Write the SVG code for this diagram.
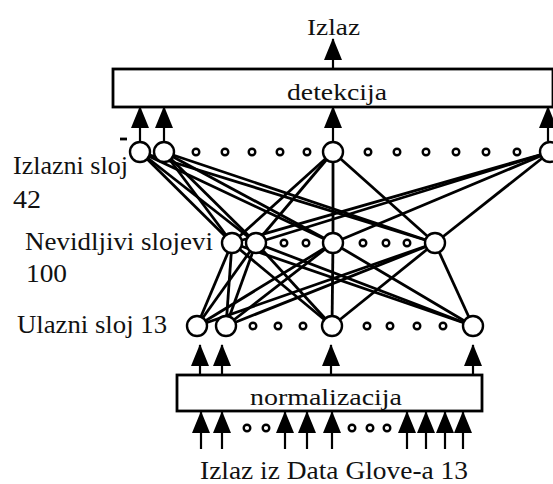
<svg xmlns="http://www.w3.org/2000/svg" width="553" height="484" viewBox="0 0 553 484">
<style>
.t{font-family:"Liberation Serif","Times New Roman",serif;fill:#111;}
.box{fill:#fff;stroke:#000;stroke-width:2.8;}
.n{fill:#fff;stroke:#000;stroke-width:2.4;}
.d{fill:#fff;stroke:#000;stroke-width:2.4;}
.c line{stroke:#000;stroke-width:2.8;}
.a line{stroke:#000;stroke-width:2.2;marker-end:url(#ah);}
</style>
<defs>
<marker id="ah" viewBox="0 0 22 18" refX="21" refY="9" markerWidth="22" markerHeight="18" markerUnits="userSpaceOnUse" orient="auto">
<path d="M0,0 L22,9 L0,18 Z" fill="#000"/>
</marker>
</defs>
<rect width="553" height="484" fill="#fff"/>

<g id="connectors" class="c">
<line x1="140" y1="152" x2="232" y2="243"/>
<line x1="140" y1="152" x2="256" y2="243"/>
<line x1="140" y1="152" x2="333" y2="243"/>
<line x1="140" y1="152" x2="435" y2="243"/>
<line x1="164" y1="152" x2="232" y2="243"/>
<line x1="164" y1="152" x2="256" y2="243"/>
<line x1="164" y1="152" x2="333" y2="243"/>
<line x1="164" y1="152" x2="435" y2="243"/>
<line x1="333" y1="152" x2="232" y2="243"/>
<line x1="333" y1="152" x2="256" y2="243"/>
<line x1="333" y1="152" x2="333" y2="243"/>
<line x1="333" y1="152" x2="435" y2="243"/>
<line x1="550" y1="152" x2="232" y2="243"/>
<line x1="550" y1="152" x2="256" y2="243"/>
<line x1="550" y1="152" x2="333" y2="243"/>
<line x1="550" y1="152" x2="435" y2="243"/>
<line x1="232" y1="243" x2="197" y2="326"/>
<line x1="232" y1="243" x2="226" y2="326"/>
<line x1="232" y1="243" x2="332" y2="326"/>
<line x1="232" y1="243" x2="473" y2="326"/>
<line x1="256" y1="243" x2="197" y2="326"/>
<line x1="256" y1="243" x2="226" y2="326"/>
<line x1="256" y1="243" x2="332" y2="326"/>
<line x1="256" y1="243" x2="473" y2="326"/>
<line x1="333" y1="243" x2="197" y2="326"/>
<line x1="333" y1="243" x2="226" y2="326"/>
<line x1="333" y1="243" x2="332" y2="326"/>
<line x1="333" y1="243" x2="473" y2="326"/>
<line x1="435" y1="243" x2="197" y2="326"/>
<line x1="435" y1="243" x2="226" y2="326"/>
<line x1="435" y1="243" x2="332" y2="326"/>
<line x1="435" y1="243" x2="473" y2="326"/>
<line x1="120" y1="139" x2="127" y2="139"/>
</g>

<g id="arrows" class="a">
<line x1="333" y1="69" x2="333" y2="39"/>
<line x1="140" y1="141" x2="140" y2="107"/>
<line x1="164" y1="141" x2="164" y2="107"/>
<line x1="333" y1="141" x2="333" y2="107"/>
<line x1="548" y1="141" x2="548" y2="107"/>
<line x1="200" y1="376" x2="200" y2="345"/>
<line x1="222" y1="376" x2="222" y2="345"/>
<line x1="331" y1="376" x2="331" y2="345"/>
<line x1="473" y1="376" x2="473" y2="345"/>
<line x1="201" y1="449" x2="201" y2="412"/>
<line x1="222" y1="449" x2="222" y2="412"/>
<line x1="285" y1="449" x2="285" y2="412"/>
<line x1="307" y1="449" x2="307" y2="412"/>
<line x1="332" y1="449" x2="332" y2="412"/>
<line x1="407" y1="449" x2="407" y2="412"/>
<line x1="426" y1="449" x2="426" y2="412"/>
<line x1="445" y1="449" x2="445" y2="412"/>
<line x1="463" y1="449" x2="463" y2="412"/>
</g>

<g id="detekcija">
<rect class="box" x="113" y="69" width="440" height="38"/>
<text class="t" x="287" y="100" font-size="24" textLength="100" lengthAdjust="spacingAndGlyphs">detekcija</text>
</g>
<g id="normalizacija">
<rect class="box" x="177" y="375" width="305" height="36"/>
<text class="t" x="250" y="405" font-size="24" textLength="152" lengthAdjust="spacingAndGlyphs">normalizacija</text>
</g>

<g id="izlazni-sloj">
<circle class="n" cx="140" cy="152" r="10"/>
<circle class="n" cx="164" cy="152" r="10"/>
<circle class="d" cx="196" cy="152" r="3.3"/>
<circle class="d" cx="225" cy="152" r="3.3"/>
<circle class="d" cx="252" cy="152" r="3.3"/>
<circle class="d" cx="280" cy="152" r="3.3"/>
<circle class="d" cx="307" cy="152" r="3.3"/>
<circle class="n" cx="333" cy="152" r="10"/>
<circle class="d" cx="368" cy="152" r="3.3"/>
<circle class="d" cx="397" cy="152" r="3.3"/>
<circle class="d" cx="426" cy="152" r="3.3"/>
<circle class="d" cx="456" cy="152" r="3.3"/>
<circle class="d" cx="486" cy="152" r="3.3"/>
<circle class="d" cx="517" cy="152" r="3.3"/>
<circle class="n" cx="550" cy="152" r="10"/>
</g>

<g id="nevidljivi-slojevi">
<circle class="n" cx="232" cy="243" r="10"/>
<circle class="n" cx="256" cy="243" r="10"/>
<circle class="d" cx="284" cy="243" r="3.3"/>
<circle class="d" cx="306" cy="243" r="3.3"/>
<circle class="n" cx="333" cy="243" r="10"/>
<circle class="d" cx="363" cy="243" r="3.3"/>
<circle class="d" cx="386" cy="243" r="3.3"/>
<circle class="d" cx="407" cy="243" r="3.3"/>
<circle class="n" cx="435" cy="243" r="10"/>
</g>

<g id="ulazni-sloj">
<circle class="n" cx="197" cy="326" r="10"/>
<circle class="n" cx="226" cy="326" r="10"/>
<circle class="d" cx="253" cy="326" r="3.3"/>
<circle class="d" cx="278" cy="326" r="3.3"/>
<circle class="d" cx="303" cy="326" r="3.3"/>
<circle class="n" cx="332" cy="326" r="10"/>
<circle class="d" cx="367" cy="326" r="3.3"/>
<circle class="d" cx="390" cy="326" r="3.3"/>
<circle class="d" cx="417" cy="326" r="3.3"/>
<circle class="d" cx="443" cy="326" r="3.3"/>
<circle class="n" cx="473" cy="326" r="10"/>
</g>

<g id="ulaz-tocke">
<circle class="d" cx="247" cy="428" r="3.3"/>
<circle class="d" cx="266" cy="428" r="3.3"/>
<circle class="d" cx="352" cy="428" r="3.3"/>
<circle class="d" cx="370" cy="428" r="3.3"/>
<circle class="d" cx="387" cy="428" r="3.3"/>
</g>

<g id="labels">
<text class="t" x="307" y="35" font-size="24" textLength="53" lengthAdjust="spacingAndGlyphs">Izlaz</text>
<text class="t" x="13" y="174" font-size="26" textLength="115" lengthAdjust="spacingAndGlyphs">Izlazni sloj</text>
<text class="t" x="13" y="208" font-size="26" textLength="28" lengthAdjust="spacingAndGlyphs">42</text>
<text class="t" x="25" y="250" font-size="26" textLength="188" lengthAdjust="spacingAndGlyphs">Nevidljivi slojevi</text>
<text class="t" x="26" y="282" font-size="26" textLength="41" lengthAdjust="spacingAndGlyphs">100</text>
<text class="t" x="17" y="333" font-size="26" textLength="150" lengthAdjust="spacingAndGlyphs">Ulazni sloj 13</text>
<text class="t" x="200" y="479" font-size="25" textLength="268" lengthAdjust="spacingAndGlyphs">Izlaz iz Data Glove-a 13</text>
</g>
</svg>
